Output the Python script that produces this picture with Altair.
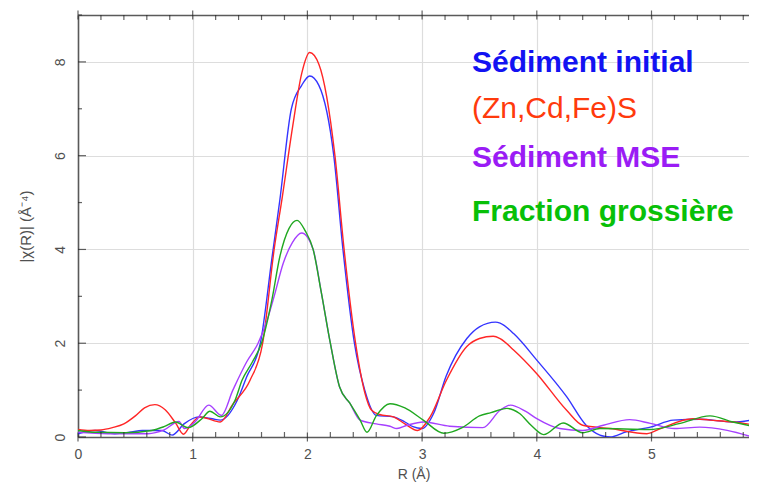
import altair as alt
import pandas as pd

SERIES = ["Sédiment initial", "(Zn,Cd,Fe)S", "Sédiment MSE", "Fraction grossière"]
LINE_COLORS = ["#3434ff", "#ff2626", "#a640ff", "#20a820"]
TEXT_COLORS = ["#1212f2", "#ff3a0c", "#9a1cf5", "#08c008"]
TEXT_WEIGHTS = ["bold", "normal", "bold", "bold"]

# Sédiment initial (blue)
blue_r = [0.0, 0.15, 0.32, 0.45, 0.56, 0.73, 0.82, 0.93, 1.05, 1.17, 1.24, 1.39, 1.47,
          1.59, 1.69, 1.76, 1.86, 1.95, 2.02, 2.1, 2.23, 2.31, 2.41, 2.5, 2.6, 2.75,
          2.85, 2.92, 3.0, 3.1, 3.21, 3.39, 3.5, 3.64, 3.68, 3.8, 4.0, 4.26, 4.43,
          4.55, 4.64, 4.78, 4.99, 5.19, 5.42, 5.71, 5.92]
blue_v = [0.07, 0.14, 0.07, 0.1, 0.14, 0.14, 0.04, 0.29, 0.43, 0.39, 0.36, 0.79, 1.28,
          2.0, 3.8, 5.06, 7.0, 7.5, 7.7, 7.5, 6.0, 4.0, 2.0, 1.0, 0.46, 0.43,
          0.32, 0.22, 0.18, 0.5, 1.3, 2.1, 2.35, 2.45, 2.43, 2.2, 1.64, 0.86, 0.25,
          0.04, 0.0, 0.11, 0.21, 0.36, 0.38, 0.32, 0.38]

# (Zn,Cd,Fe)S (red)
red_r = [0.0, 0.1, 0.2, 0.3, 0.4, 0.5, 0.58, 0.67, 0.76, 0.85, 0.92, 0.98, 1.06, 1.12,
         1.24, 1.35, 1.5, 1.61, 1.71, 1.78, 1.87, 1.95, 2.02, 2.1, 2.24, 2.32, 2.42,
         2.5, 2.56, 2.63, 2.75, 2.85, 2.96, 3.07, 3.21, 3.39, 3.5, 3.62, 3.68, 3.8,
         4.0, 4.26, 4.4, 4.64, 4.96, 5.08, 5.36, 5.51, 5.71, 5.92]
red_v = [0.16, 0.14, 0.15, 0.2, 0.28, 0.45, 0.62, 0.69, 0.58, 0.3, 0.06, 0.25, 0.43, 0.4,
         0.32, 0.7, 1.21, 2.0, 4.0, 5.1, 6.6, 7.75, 8.2, 7.95, 6.0, 4.0, 2.0,
         0.95, 0.57, 0.48, 0.43, 0.28, 0.14, 0.43, 1.2, 1.93, 2.1, 2.15, 2.1, 1.85,
         1.35, 0.57, 0.25, 0.18, 0.07, 0.18, 0.39, 0.36, 0.32, 0.25]

# Sédiment MSE (purple)
purple_r = [0.0, 0.26, 0.61, 0.75, 0.88, 0.93, 1.02, 1.14, 1.25, 1.35, 1.47, 1.57, 1.65,
            1.71, 1.79, 1.87, 1.95, 2.05, 2.12, 2.2, 2.28, 2.37, 2.46, 2.6, 2.72, 2.78,
            2.87, 3.01, 3.24, 3.53, 3.68, 3.77, 3.9, 4.0, 4.2, 4.4, 4.58, 4.81, 4.99,
            5.2, 5.42, 5.66, 5.88]
purple_v = [0.1, 0.07, 0.07, 0.15, 0.33, 0.18, 0.32, 0.68, 0.46, 1.0, 1.6, 2.0, 2.5,
            3.0, 3.71, 4.15, 4.35, 4.0, 3.1, 2.0, 1.07, 0.72, 0.36, 0.28, 0.23, 0.18,
            0.25, 0.32, 0.23, 0.2, 0.57, 0.68, 0.55, 0.39, 0.18, 0.14, 0.25, 0.37, 0.29,
            0.18, 0.21, 0.14, 0.0]

# Fraction grossière (green)
green_r = [0.0, 0.15, 0.41, 0.64, 0.75, 0.85, 0.96, 1.08, 1.15, 1.24, 1.37, 1.43, 1.52,
           1.6, 1.69, 1.76, 1.84, 1.91, 1.98, 2.05, 2.12, 2.2, 2.28, 2.37, 2.46, 2.52,
           2.6, 2.72, 2.85, 3.01, 3.19, 3.35, 3.5, 3.6, 3.74, 3.85, 3.95, 4.06, 4.23,
           4.4, 4.55, 4.98, 5.25, 5.51, 5.71, 5.92]
green_v = [0.14, 0.1, 0.09, 0.14, 0.22, 0.32, 0.2, 0.39, 0.55, 0.43, 0.79, 1.21, 1.6,
           2.0, 2.92, 3.85, 4.45, 4.62, 4.4, 4.0, 3.1, 2.0, 1.07, 0.72, 0.36, 0.1,
           0.45, 0.71, 0.62, 0.36, 0.08, 0.2, 0.45, 0.52, 0.61, 0.5, 0.25, 0.05, 0.3,
           0.09, 0.18, 0.16, 0.29, 0.45, 0.32, 0.21]

X_MAJOR = [0, 1, 2, 3, 4, 5]
X_MINOR = [round(i * 0.2, 1) for i in range(30) if i % 5 != 0]
Y_MAJOR = [0, 2, 4, 6, 8]
Y_MINOR = [1, 3, 5, 7, 9]

rows = []
for name, rr, vv in zip(SERIES, [blue_r, red_r, purple_r, green_r],
                        [blue_v, red_v, purple_v, green_v]):
    for r, v in zip(rr, vv):
        rows.append({"R": r, "v": v, "serie": name})
df = pd.DataFrame(rows)

FONT = "Liberation Sans"
AXIS_GRAY = "#5a5a5a"
TICK_COLOR = "#222222"
W, H = 671, 422
xscale = alt.Scale(domain=[0, 5.85], nice=False, zero=False)
yscale = alt.Scale(domain=[0, 9], nice=False, zero=False)

lines = alt.Chart(df).mark_line(strokeWidth=1.4, interpolate="monotone", clip=True).encode(
    x=alt.X("R:Q", scale=xscale, axis=alt.Axis(
        title="R (Å)", values=X_MAJOR, grid=True, ticks=False, format="d",
        labelOverlap=False, labelFlush=False, labelPadding=10, titlePadding=6)),
    y=alt.Y("v:Q", scale=yscale, axis=alt.Axis(
        title="|χ(R)| (Å⁻⁴)", values=Y_MAJOR, labelAngle=270, grid=True, ticks=False,
        labelOverlap=False, labelPadding=11, titlePadding=20, titleFontSize=15)),
    color=alt.Color("serie:N", scale=alt.Scale(domain=SERIES, range=LINE_COLORS), legend=None),
)

top_axis = alt.Chart(df).mark_rule(opacity=0).encode(
    x=alt.X("R:Q", scale=xscale, axis=alt.Axis(
        orient="top", title=None, labels=False, grid=False, ticks=False)),
)

def xticks(vals, ypx, size):
    return alt.Chart(pd.DataFrame({"t": vals})).mark_tick(
        color=TICK_COLOR, thickness=1.2, size=size
    ).encode(x=alt.X("t:Q", scale=xscale, axis=None), y=alt.value(ypx))

def yticks(vals, xpx, size):
    return alt.Chart(pd.DataFrame({"t": vals})).mark_tick(
        color=TICK_COLOR, thickness=1.2, size=size
    ).encode(y=alt.Y("t:Q", scale=yscale, axis=None), x=alt.value(xpx))

tick_layers = [
    xticks(X_MAJOR, H, 9), xticks(X_MINOR, H - 2.5, 5),
    xticks(X_MAJOR, 0, 9), xticks(X_MINOR, 2.5, 5),
    yticks(Y_MAJOR, 4, 8), yticks(Y_MINOR, 2, 4),
]

# annotation text (legend written in the plot), placed in pixels
LABEL_PX_X = 394
LABEL_PX_Y = [48, 94, 143, 197]
texts = []
for name, col, w, ly in zip(SERIES, TEXT_COLORS, TEXT_WEIGHTS, LABEL_PX_Y):
    t = alt.Chart(pd.DataFrame({"label": [name]})).mark_text(
        align="left", baseline="middle", font=FONT, fontSize=30, fontWeight=w, color=col
    ).encode(x=alt.value(LABEL_PX_X), y=alt.value(ly), text="label:N")
    texts.append(t)

chart = alt.layer(lines, top_axis, *tick_layers, *texts).resolve_axis(
    x="independent", y="independent"
).properties(
    width=W, height=H,
    padding={"left": 70, "top": 7, "right": 0, "bottom": 46},
    autosize=alt.AutoSizeParams(type="none"),
    background="white",
).configure_view(stroke=None).configure_axis(
    labelFont=FONT, labelFontSize=14, labelColor="#505050",
    titleFont=FONT, titleFontSize=14, titleFontWeight="normal", titleColor="#505050",
    domainColor=AXIS_GRAY, domainWidth=1.6,
    gridColor="#dddddd", gridWidth=1.2,
)

chart.save("out.html", embed_options={"renderer": "svg", "actions": False})
